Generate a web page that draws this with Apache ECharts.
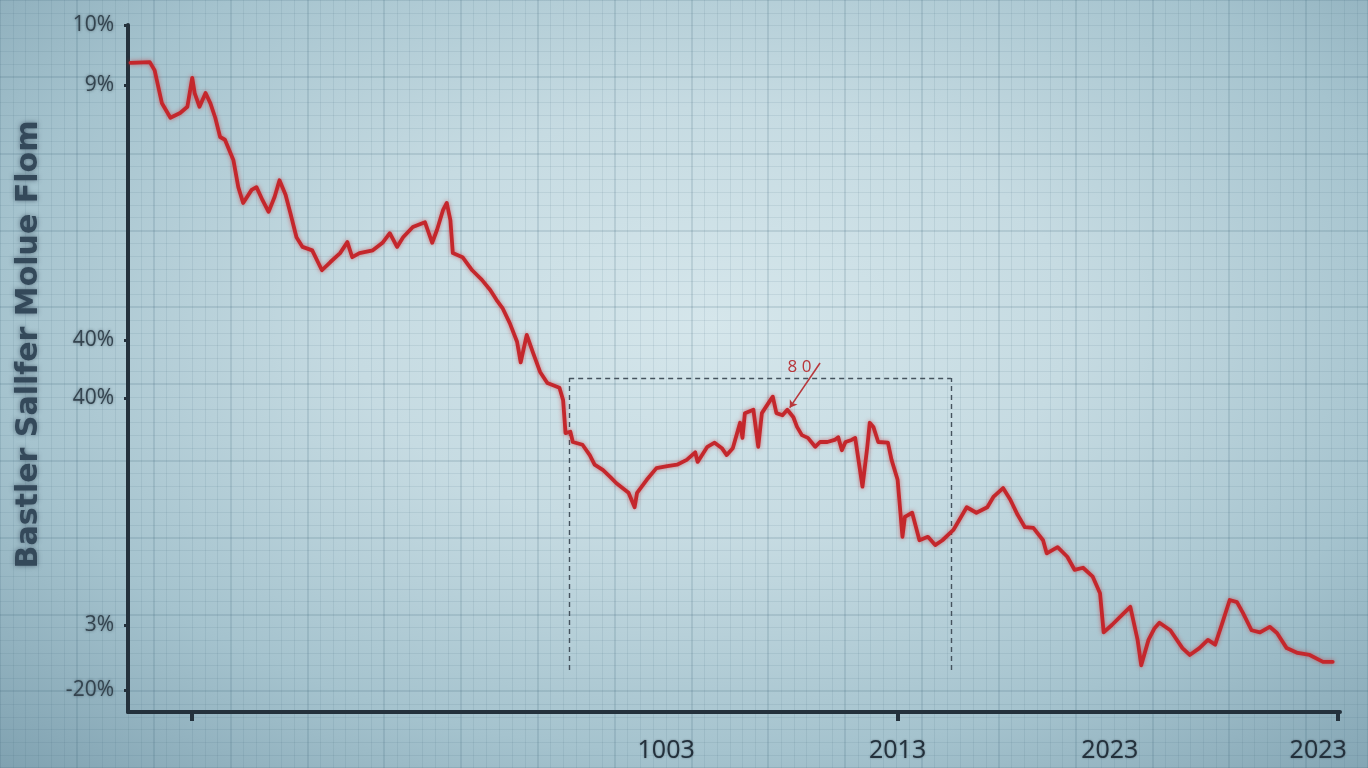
<!DOCTYPE html>
<html>
<head>
<meta charset="utf-8">
<script src="https://cdn.jsdelivr.net/npm/echarts@6/dist/echarts.min.js"></script>
<style>
html,body{margin:0;padding:0;width:1368px;height:768px;overflow:hidden;
background:radial-gradient(ellipse 75% 80% at 52% 42%, #d5e6eb 0%, #c6dbe2 35%, #a5c3ce 70%, #80a2b1 100%);}
#c{width:1368px;height:768px;}
</style>
</head>
<body>
<div id="c"></div>
<script>
// ---- data (axis units: x 0..100, y 0..100) ----
const xValues = [0.2,1.8,2.2,2.8,3.5,4.3,4.9,5.3,5.5,5.9,6.4,6.8,7.2,7.6,8.0,8.7,9.1,9.5,10.2,10.6,11.1,11.6,12.1,12.5,13.0,13.4,13.9,14.4,15.2,16.0,16.7,17.5,18.1,18.5,19.1,20.2,21.0,21.6,22.2,22.7,23.5,24.5,25.1,25.5,26.0,26.3,26.6,26.8,27.6,28.4,29.2,29.9,30.4,30.9,31.5,32.1,32.4,32.9,33.4,34.0,34.6,35.6,35.9,36.1,36.5,36.7,37.5,38.1,38.5,39.2,39.8,40.3,40.8,41.3,41.8,42.0,42.8,43.6,44.5,45.3,46.1,46.8,47.0,47.8,48.4,49.0,49.4,49.9,50.5,50.7,50.9,51.6,52.0,52.3,53.0,53.2,53.5,54.0,54.4,54.9,55.2,55.6,56.1,56.7,57.1,57.7,58.3,58.6,58.9,59.2,59.7,60.0,60.6,61.0,61.2,61.5,61.9,62.7,63.0,63.5,63.9,64.1,64.7,65.3,66.0,66.6,67.2,68.1,69.2,70.0,70.9,71.4,72.2,72.8,73.4,74.0,74.7,75.5,75.8,76.7,77.5,78.1,78.8,79.6,80.2,80.5,81.2,82.0,82.7,83.3,83.6,84.2,84.7,85.1,86.0,87.0,87.6,88.4,89.1,89.7,90.3,90.9,91.5,92.0,92.7,93.4,94.2,94.8,95.6,96.5,97.5,98.6,99.4];
const yValues = [94.5,94.6,93.4,88.6,86.5,87.2,88.1,92.3,90.1,88.1,90.1,88.6,86.5,83.7,83.3,80.3,76.4,74.1,76.0,76.4,74.5,72.8,75.0,77.4,75.3,72.6,69.1,67.7,67.2,64.3,65.5,66.8,68.4,66.2,66.8,67.2,68.3,69.7,67.7,69.1,70.6,71.3,68.3,70.2,73.1,74.1,71.6,66.8,66.2,64.3,62.9,61.4,60.0,58.8,56.6,53.9,50.9,54.9,52.4,49.5,47.9,47.2,45.4,40.6,40.8,39.3,38.9,37.4,36.0,35.2,34.2,33.3,32.6,31.9,29.8,31.9,33.8,35.5,35.8,36.0,36.7,37.8,36.4,38.6,39.2,38.4,37.4,38.4,42.1,39.9,43.5,44.0,38.6,43.5,45.4,45.9,43.5,43.2,44.0,42.9,41.5,40.3,39.9,38.6,39.3,39.3,39.6,40.0,38.1,39.3,39.6,39.9,32.8,38.6,42.1,41.5,39.3,39.2,36.7,33.8,25.5,28.4,29.0,25.0,25.5,24.3,25.0,26.5,29.8,29.0,29.8,31.3,32.6,30.9,28.7,26.9,26.8,25.0,23.1,24.0,22.6,20.7,21.0,19.7,17.3,11.6,12.7,14.1,15.3,10.5,6.8,10.5,12.2,13.0,11.9,9.3,8.3,9.3,10.5,9.8,13.0,16.3,16.0,14.4,11.9,11.6,12.4,11.5,9.3,8.6,8.3,7.3,7.3];

const yLabelPos  = [100, 91.3, 54.1, 45.7, 12.7, 3.2];
const yLabelText = ['10%', '9%', '40%', '40%', '3%', '-20%'];
const xLabelPos  = [44.4, 63.5, 81.0, 98.2];
const xLabelText = ['1003', '2013', '2023', '2023'];
const xTickPos   = [5.3, 63.5, 99.8];
const yAxisTitle = 'Bastler Sallfer Molue Flom';

const boxX = [36.4, 67.9];
const boxY = [6.1, 48.6];
const noteText = '8 0';
const notePos = [55.4, 50.2];
const arrowFrom = [57.1, 50.8];
const arrowTo = [54.6, 44.3];

const lineData = xValues.map((x, i) => [x, yValues[i]]);

const chart = echarts.init(document.getElementById('c'), null, {renderer: 'canvas'});
const axisDark = '#24313c';
const gridMajor = 'rgba(55,95,115,0.2)';
const gridMinor = 'rgba(55,95,115,0.1)';

chart.setOption({
  backgroundColor: 'transparent',
  animation: false,
  grid: [
    {left: 128, right: 28, top: 25, bottom: 56},
    {left: -21, right: 0, top: -8, bottom: -24}
  ],
  xAxis: [
    {
      type: 'value', gridIndex: 0, min: 0, max: 100,
      axisLine: {show: true, lineStyle: {color: axisDark, width: 4, cap: 'round'}},
      axisTick: {show: true, customValues: xTickPos, length: 9, lineStyle: {color: axisDark, width: 4}},
      axisLabel: {
        show: true, customValues: xLabelPos, margin: 26,
        formatter: v => { const i = xLabelPos.findIndex(p => Math.abs(p - v) < 1e-6); return i >= 0 ? xLabelText[i] : ''; },
        color: '#23303b', fontSize: 25, fontFamily: 'Open Sans', fontWeight: 500,
        textShadowColor: 'rgba(35,48,59,0.5)', textShadowBlur: 2
      },
      splitLine: {show: false}
    },
    {
      type: 'value', gridIndex: 1, min: 0, max: 1389 / 78, interval: 1,
      axisLine: {show: false}, axisTick: {show: false}, axisLabel: {show: false},
      splitLine: {show: true, lineStyle: {color: gridMajor, width: 1.5}},
      minorTick: {show: false, splitNumber: 6},
      minorSplitLine: {show: true, lineStyle: {color: gridMinor, width: 1}}
    }
  ],
  yAxis: [
    {
      type: 'value', gridIndex: 0, min: 0, max: 100,
      name: yAxisTitle, nameLocation: 'middle', nameGap: 84,
      nameTextStyle: {color: '#34495a', fontSize: 30, fontFamily: 'DejaVu Sans', fontWeight: 'bold',
        padding: [0, 0, 0, 48],
        textShadowColor: 'rgba(52,73,90,0.7)', textShadowBlur: 5},
      axisLine: {show: true, lineStyle: {color: axisDark, width: 4, cap: 'round'}},
      axisTick: {show: true, customValues: yLabelPos, length: 4, lineStyle: {color: axisDark, width: 3}},
      axisLabel: {
        show: true, customValues: yLabelPos, margin: 14,
        formatter: v => { const i = yLabelPos.findIndex(p => Math.abs(p - v) < 1e-6); return i >= 0 ? yLabelText[i] : ''; },
        color: '#34444f', fontSize: 21, fontFamily: 'Open Sans',
        textShadowColor: 'rgba(52,68,79,0.6)', textShadowBlur: 3
      },
      splitLine: {show: false}
    },
    {
      type: 'value', gridIndex: 1, min: 0, max: 10, interval: 1,
      axisLine: {show: false}, axisTick: {show: false}, axisLabel: {show: false},
      splitLine: {show: true, lineStyle: {color: gridMajor, width: 1.5}},
      minorTick: {show: false, splitNumber: 6},
      minorSplitLine: {show: true, lineStyle: {color: gridMinor, width: 1}}
    }
  ],
  series: [
    {
      type: 'line', xAxisIndex: 0, yAxisIndex: 0,
      data: lineData, symbol: 'none', smooth: false, z: 5,
      lineStyle: {color: '#c4272c', width: 3.8, join: 'round', cap: 'round',
        shadowColor: 'rgba(200,35,40,0.55)', shadowBlur: 4},
      markLine: {
        silent: true, symbol: 'none', z: 3,
        label: {show: false},
        lineStyle: {color: '#45535e', type: [5, 4], width: 1.4},
        data: [
          [{coord: [boxX[0], boxY[1]]}, {coord: [boxX[1], boxY[1]]}],
          [{coord: [boxX[0], boxY[0]]}, {coord: [boxX[0], boxY[1]]}],
          [{coord: [boxX[1], boxY[0]]}, {coord: [boxX[1], boxY[1]]}]
        ]
      }
    },
    {
      type: 'line', xAxisIndex: 0, yAxisIndex: 0, data: [], symbol: 'none',
      markLine: {
        silent: true, symbol: ['none', 'arrow'], symbolSize: 7, z: 6,
        label: {show: false},
        lineStyle: {color: '#b8383c', type: 'solid', width: 1.6},
        data: [[{coord: arrowFrom}, {coord: arrowTo}]]
      },
      markPoint: {
        silent: true, symbol: 'circle', symbolSize: 1, itemStyle: {color: 'transparent'},
        label: {show: true, formatter: noteText, color: '#b8363a', fontSize: 17,
          fontFamily: 'Open Sans', position: 'inside'},
        data: [{coord: notePos}]
      }
    }
  ]
});
</script>
</body>
</html>
